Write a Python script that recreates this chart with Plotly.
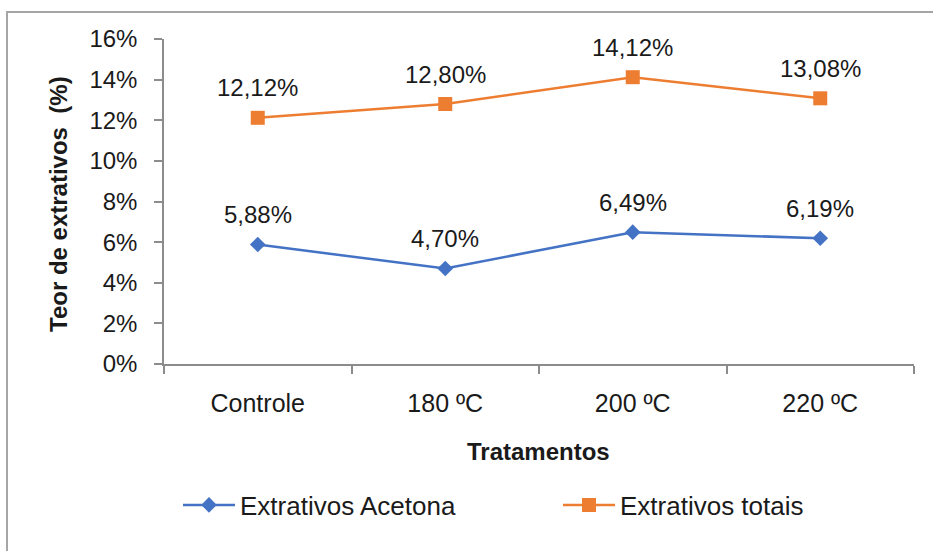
import plotly.graph_objects as go

# Treatments and extractive contents (%)
tratamentos = ["Controle", "180 ºC", "200 ºC", "220 ºC"]
acetona = [5.88, 4.70, 6.49, 6.19]
totais = [12.12, 12.80, 14.12, 13.08]
y_ticks = [0, 2, 4, 6, 8, 10, 12, 14, 16]
y_tick_text = [f"{v}%" for v in y_ticks]

BLUE = "#4472C4"
ORANGE = "#ED7D31"
AXIS = "#8C8C8C"
TEXT = "#1A1A1A"
FONT = "Liberation Sans, Arial, sans-serif"

W, H = 933, 551
L, R, T, B = 164, 19, 39, 187
pw, ph = W - L - R, H - T - B


def px_x(x):
    return (x - L) / pw


def px_y(y):
    return (H - B - y) / ph


def pct(v):
    return f"{v:.2f}".replace(".", ",") + "%"


fig = go.Figure()

fig.add_trace(go.Scatter(
    x=tratamentos, y=acetona, name="Extrativos Acetona",
    mode="lines+markers", legend="legend",
    line=dict(color=BLUE, width=2.5),
    marker=dict(symbol="diamond", size=12, color=BLUE),
))

fig.add_trace(go.Scatter(
    x=tratamentos, y=totais, name="Extrativos totais",
    mode="lines+markers", legend="legend2",
    line=dict(color=ORANGE, width=2.5),
    marker=dict(symbol="square", size=14, color=ORANGE),
))

# value labels above each point
annotations = []
for series in (acetona, totais):
    for cat, v in zip(tratamentos, series):
        annotations.append(dict(
            x=cat, y=v, xref="x", yref="y", text=pct(v), showarrow=False,
            xanchor="center", yanchor="middle", yshift=30,
            font=dict(size=24, color=TEXT, family=FONT),
        ))

annotations += [
    dict(text="<b>Tratamentos</b>", xref="paper", yref="paper",
         x=px_x(538), y=px_y(451), showarrow=False,
         xanchor="center", yanchor="middle",
         font=dict(size=24, color=TEXT, family=FONT)),
    dict(text="<b>Teor de extrativos  (%)</b>", xref="paper", yref="paper",
         x=px_x(58), y=px_y(204), showarrow=False, textangle=-90,
         xanchor="center", yanchor="middle",
         font=dict(size=24, color=TEXT, family=FONT)),
]

legend_style = dict(
    orientation="h", xanchor="left", yanchor="middle",
    font=dict(size=26, color=TEXT, family=FONT),
    itemwidth=52, bgcolor="rgba(0,0,0,0)",
)

fig.update_layout(
    width=W, height=H,
    margin=dict(l=L, r=R, t=T, b=B, pad=0, autoexpand=False),
    paper_bgcolor="white", plot_bgcolor="white",
    font=dict(family=FONT, size=24, color=TEXT),
    showlegend=True,
    legend=dict(x=px_x(178), y=px_y(505), **legend_style),
    legend2=dict(x=px_x(558), y=px_y(505), **legend_style),
    xaxis=dict(
        type="category", range=[-0.5, 3.5],
        showline=True, linecolor=AXIS, linewidth=1.5,
        ticks="outside", ticklen=8, tickcolor=AXIS, tickwidth=1.5,
        tickson="boundaries", showgrid=False, zeroline=False,
        ticklabelstandoff=16,
        tickfont=dict(size=25, color=TEXT, family=FONT),
    ),
    yaxis=dict(
        range=[0, 16], tickvals=y_ticks, ticktext=y_tick_text,
        showline=True, linecolor=AXIS, linewidth=1.5,
        ticks="outside", ticklen=8, tickcolor=AXIS, tickwidth=1.5,
        showgrid=False, zeroline=False,
        ticklabelstandoff=12,
        tickfont=dict(size=24, color=TEXT, family=FONT),
    ),
    annotations=annotations,
    shapes=[
        dict(type="rect", xref="paper", yref="paper",
             x0=px_x(7), x1=px_x(945), y0=px_y(12), y1=px_y(570),
             line=dict(color="#A6A6A6", width=2), fillcolor="rgba(0,0,0,0)",
             layer="below"),
    ],
)

fig.write_html("out.html")
